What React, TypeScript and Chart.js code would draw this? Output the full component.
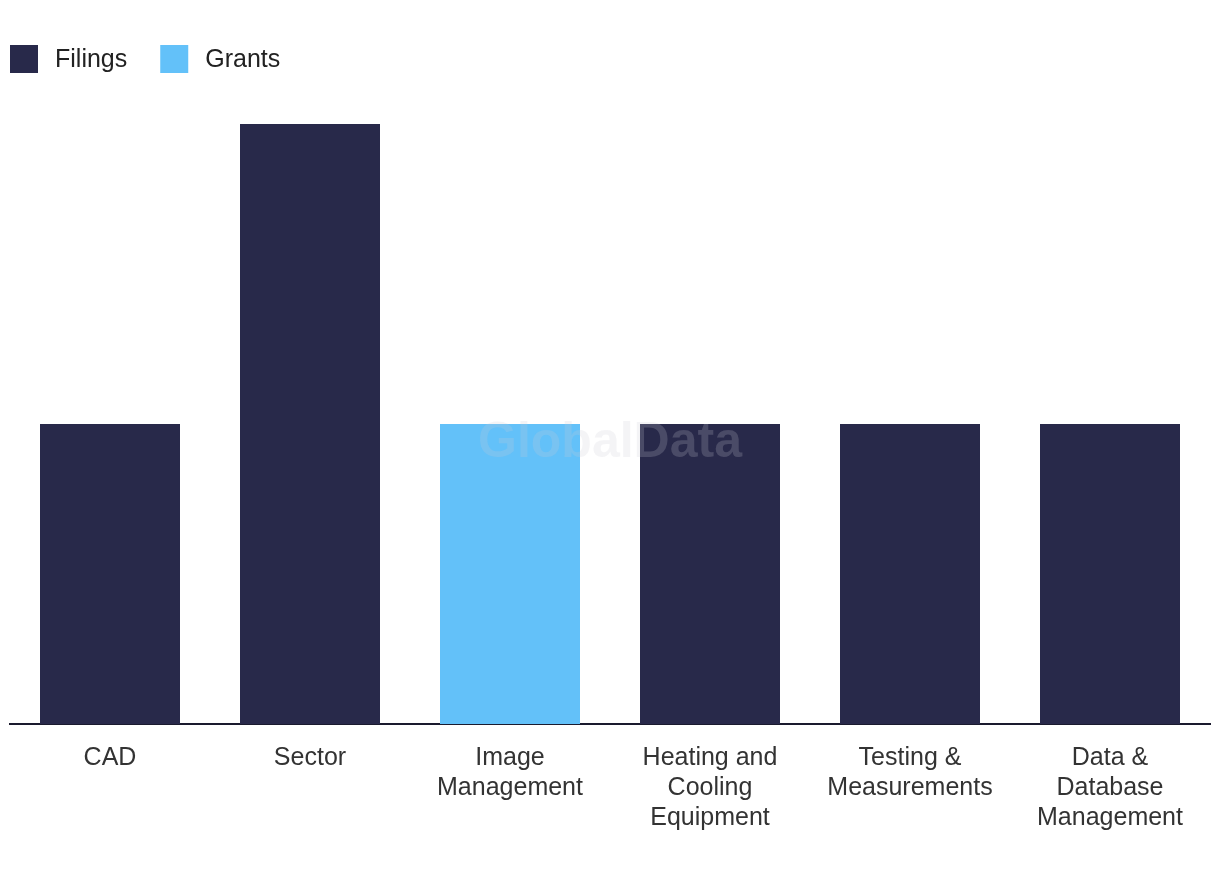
import React, { useEffect, useRef } from "react";
import { Chart, registerables } from "chart.js";

Chart.register(...registerables);

const categories: string[][] = [
  ["CAD"],
  ["Sector"],
  ["Image", "Management"],
  ["Heating and", "Cooling", "Equipment"],
  ["Testing &", "Measurements"],
  ["Data &", "Database", "Management"],
];
const filings: number[] = [1, 2, 0, 1, 1, 1];
const grants: number[] = [0, 0, 1, 0, 0, 0];

const NAVY = "#28294a";
const BLUE = "#63c1f9";
const FONT = "'Liberation Sans', Arial, sans-serif";

const watermark = {
  id: "watermark",
  afterDatasetsDraw(chart: any) {
    const { ctx, chartArea } = chart;
    const cx = (chartArea.left + chartArea.right) / 2;
    const cy = (chartArea.top + chartArea.bottom) / 2;
    ctx.save();
    ctx.font = `bold 50px ${FONT}`;
    ctx.fillStyle = "rgba(203,203,212,0.21)";
    ctx.textAlign = "center";
    ctx.textBaseline = "alphabetic";
    ctx.fillText("GlobalData", cx, cy + 33);
    ctx.restore();
  },
};

const customLegend = {
  id: "customLegend",
  afterDraw(chart: any) {
    const { ctx } = chart;
    ctx.save();
    ctx.font = `25px ${FONT}`;
    ctx.textBaseline = "middle";
    ctx.textAlign = "left";
    let x = 10;
    const boxTop = 45;
    const box = 28;
    chart.data.datasets.forEach((ds: any) => {
      ctx.fillStyle = ds.backgroundColor;
      ctx.fillRect(x, boxTop, box, box);
      const tx = x + box + 17;
      ctx.fillStyle = "#222";
      ctx.fillText(ds.label, tx, boxTop + box / 2 + 1);
      x = tx + ctx.measureText(ds.label).width + 33;
    });
    ctx.restore();
  },
};

export default function App() {
  const ref = useRef<HTMLCanvasElement | null>(null);
  useEffect(() => {
    document.body.style.margin = "0";
    if (!ref.current) return;
    const chart = new Chart(ref.current, {
      type: "bar",
      data: {
        labels: categories,
        datasets: [
          { label: "Filings", data: filings, backgroundColor: NAVY, borderWidth: 0 },
          { label: "Grants", data: grants, backgroundColor: BLUE, borderWidth: 0 },
        ],
      },
      options: {
        animation: false,
        responsive: false,
        maintainAspectRatio: false,
        layout: { padding: { left: 10, right: 10, top: 124, bottom: 28 } },
        datasets: { bar: { barPercentage: 0.7, categoryPercentage: 1 } },
        plugins: {
          legend: { display: false },
          tooltip: { enabled: false },
        },
        scales: {
          x: {
            stacked: true,
            grid: { display: false, drawTicks: false },
            border: { display: true, color: "#1a1a2e", width: 2 },
            ticks: {
              color: "#333",
              padding: 19,
              maxRotation: 0,
              autoSkip: false,
              font: { family: FONT, size: 25, lineHeight: 1.2 },
            },
          },
          y: {
            stacked: true,
            display: false,
            min: 0,
            max: 2,
          },
        },
      },
      plugins: [watermark, customLegend],
    });
    return () => chart.destroy();
  }, []);
  return <canvas ref={ref} width={1220} height={880} style={{ display: "block" }} />;
}
